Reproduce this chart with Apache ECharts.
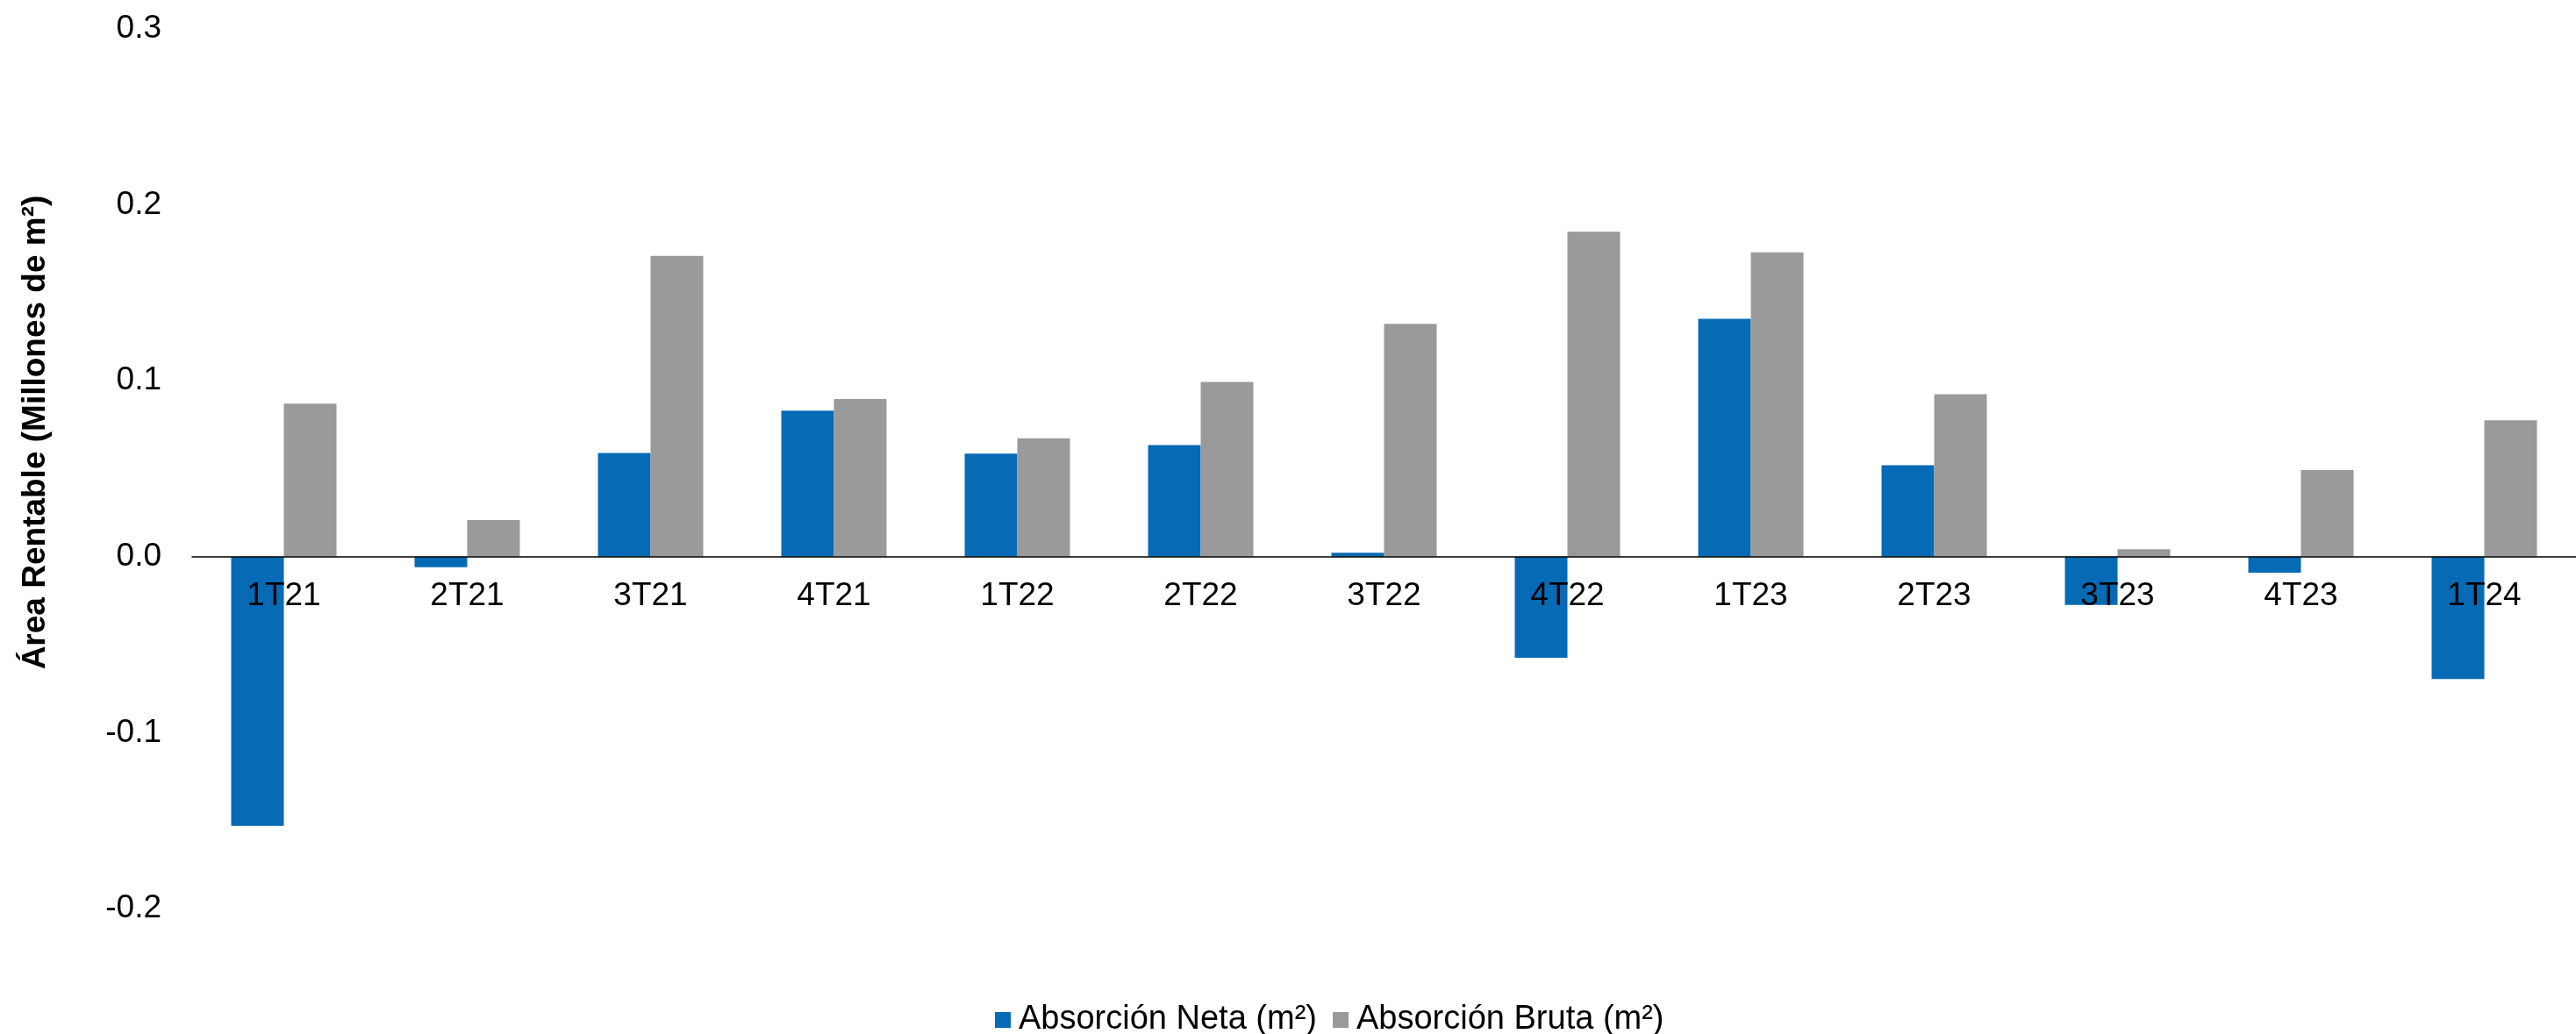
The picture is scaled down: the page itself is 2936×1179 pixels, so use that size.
<!DOCTYPE html>
<html>
<head>
<meta charset="utf-8">
<title>Absorción Neta y Bruta</title>
<script src="https://cdn.jsdelivr.net/npm/echarts@6/dist/echarts.min.js"></script>
<style>
  html, body { margin: 0; padding: 0; background: #ffffff; }
  #chart { width: 2936px; height: 1179px; }
</style>
</head>
<body>
<div id="chart"></div>
<script>
// Quarters on the category axis
const quarters = ['1T21', '2T21', '3T21', '4T21', '1T22', '2T22', '3T22', '4T22', '1T23', '2T23', '3T23', '4T23', '1T24'];

// Net absorption, millions of m²
const absorcionNeta = [-0.153, -0.006, 0.059, 0.083, 0.0586, 0.0635, 0.0023, -0.0574, 0.1352, 0.052, -0.0274, -0.0091, -0.0695];

// Gross absorption, millions of m²
const absorcionBruta = [0.087, 0.0208, 0.171, 0.0896, 0.0673, 0.0994, 0.1324, 0.1847, 0.173, 0.0924, 0.0043, 0.0493, 0.0775];

// Value axis range and step
const yMin = -0.2;
const yMax = 0.3;
const yStep = 0.1;

const FONT = '"Liberation Sans", Arial, sans-serif';
const BLUE = '#066AB4';
const GRAY = '#9A9A9A';

const GRID_TOP = 33;
const GRID_HEIGHT = 1003;
// Lift the category axis (line and labels) from the grid bottom up to the zero level
const zeroOffset = -GRID_HEIGHT * (0 - yMin) / (yMax - yMin);

const chart = echarts.init(document.getElementById('chart'), null, { renderer: 'canvas' });

chart.setOption({
  backgroundColor: '#ffffff',
  animation: false,
  textStyle: { fontFamily: FONT },
  grid: { left: 219, top: GRID_TOP, width: 2728, height: GRID_HEIGHT, containLabel: false },
  legend: {
    left: 1129,
    top: 1139,
    itemWidth: 18,
    itemHeight: 18,
    itemGap: 18,
    icon: 'rect',
    textStyle: { fontFamily: FONT, fontSize: 38, color: '#000000', lineHeight: 38, padding: [0, 0, 0, 4] },
    data: ['Absorción Neta (m²)', 'Absorción Bruta (m²)']
  },
  graphic: [{
    type: 'text',
    x: 41,
    y: 493,
    rotation: Math.PI / 2,
    style: {
      text: 'Área Rentable (Millones de m²)',
      fontFamily: FONT,
      fontSize: 37,
      fontWeight: 'bold',
      fill: '#000000',
      align: 'center',
      verticalAlign: 'middle'
    }
  }],
  xAxis: {
    type: 'category',
    data: quarters,
    position: 'bottom',
    offset: zeroOffset,
    z: 10,
    axisLine: { show: true, onZero: false, lineStyle: { color: '#000000', width: 1.5 } },
    axisTick: { show: false },
    axisLabel: { fontFamily: FONT, fontSize: 37, color: '#000000', margin: 26, interval: 0 },
    splitLine: { show: false }
  },
  yAxis: {
    type: 'value',
    min: yMin,
    max: yMax,
    interval: yStep,
    axisLine: { show: false },
    axisTick: { show: false },
    splitLine: { show: false },
    axisLabel: {
      fontFamily: FONT,
      fontSize: 37,
      color: '#000000',
      margin: 35,
      formatter: v => v.toFixed(1)
    }
  },
  series: [
    {
      name: 'Absorción Neta (m²)',
      type: 'bar',
      data: absorcionNeta,
      barWidth: 60,
      barGap: '0%',
      itemStyle: { color: BLUE }
    },
    {
      name: 'Absorción Bruta (m²)',
      type: 'bar',
      data: absorcionBruta,
      barWidth: 60,
      barGap: '0%',
      itemStyle: { color: GRAY }
    }
  ]
});
</script>
</body>
</html>
